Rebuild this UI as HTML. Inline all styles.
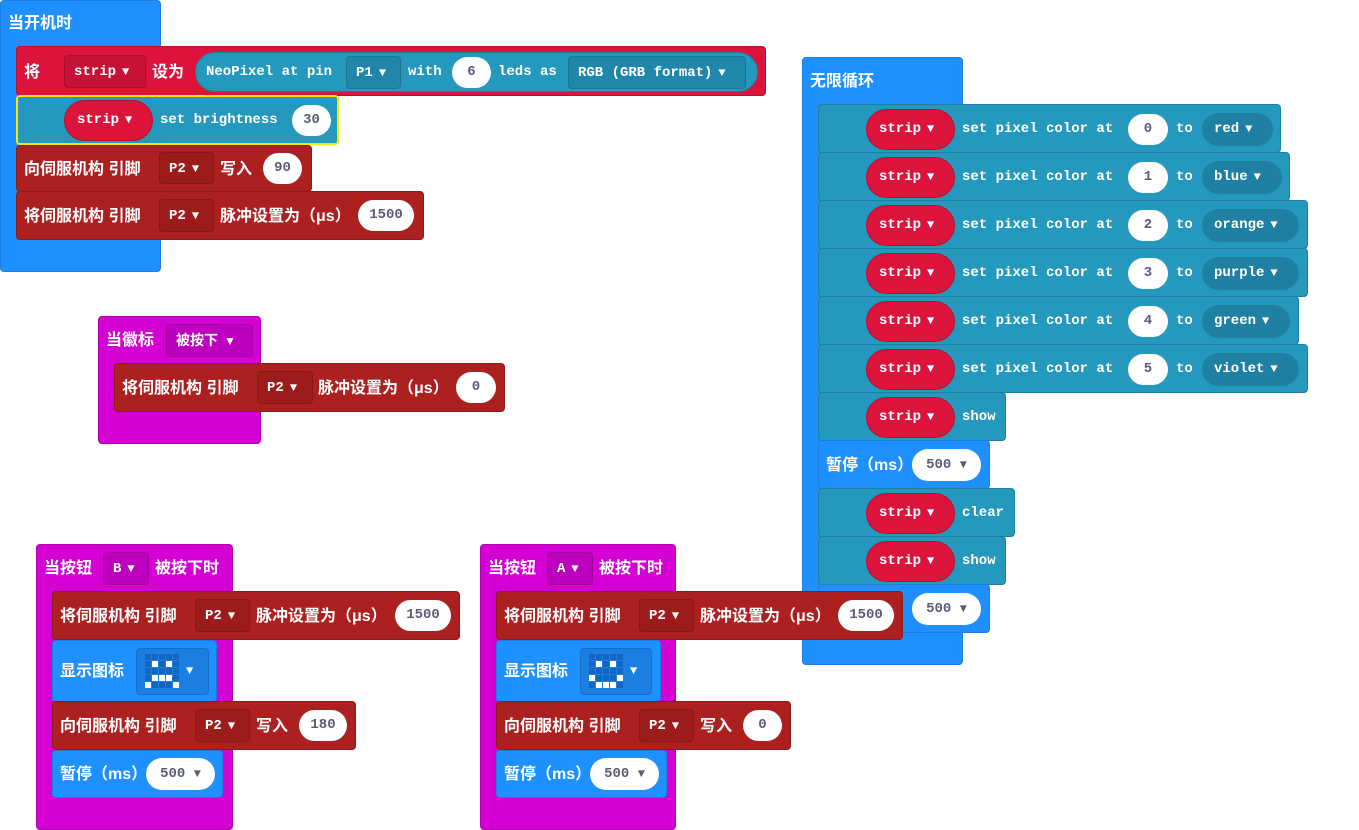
<!DOCTYPE html>
<html><head><meta charset="utf-8"><style>
body{margin:0;width:1359px;height:830px;background:#fff;position:relative;overflow:hidden;font-family:"Liberation Mono","Noto Sans CJK SC",monospace;}
div,span{position:absolute;box-sizing:border-box;}
.b{border-radius:4px;}
.t{color:#fff;font-weight:bold;font-size:14px;line-height:20px;white-space:nowrap;}
.c{font-family:"Liberation Sans","Noto Sans CJK SC",sans-serif;font-size:16px;margin-top:2px;}
.w{background:#fff;border-radius:20px;color:#575e75;font-weight:bold;font-size:14px;text-align:center;white-space:nowrap;}
.dd{border-radius:4px;color:#fff;font-weight:bold;font-size:14px;white-space:nowrap;padding-left:9px;}
.ov{border-radius:22px;color:#fff;font-weight:bold;font-size:14px;white-space:nowrap;padding-left:12px;background:#DC143C;border:1px solid #b5102f;}
.tri{font-size:12px;margin-left:6px;}
.blue{background:#1E90FF;border:1px solid #1a7ee0;}
.red{background:#DC143C;border:1px solid #b5102f;}
.teal{background:#2598BD;border:1px solid #1f7fa0;}
.sv{background:#AD2020;border:1px solid #8e1a1a;}
.mg{background:#D400D4;border:1px solid #b300b3;}
.ic{background:#1a7fe0;border:1px solid #1670c8;border-radius:4px;}
.px{width:6px;height:6px;background:#1466c0;}
.pw{width:6px;height:6px;background:#fff;}
</style></head><body>

<!-- 当开机时 -->
<div class="b blue" style="left:0;top:0;width:161px;height:272px"></div>
<span class="t c" style="left:8px;top:12px">当开机时</span>
<div class="b red" style="left:16px;top:46px;width:750px;height:50px"></div>
<span class="t c" style="left:24px;top:61px">将</span>
<div class="dd" style="left:64px;top:55px;width:82px;height:33px;line-height:33px;background:#c61236;border:1px solid #a80f2d">strip<span class="tri" style="position:static">▼</span></div>
<span class="t c" style="left:152px;top:61px">设为</span>
<div style="left:195px;top:52px;width:563px;height:40px;border-radius:20px;background:#2598BD;border:1px solid #1f7fa0"></div>
<span class="t" style="left:206px;top:62px">NeoPixel at pin</span>
<div class="dd" style="left:346px;top:56px;width:55px;height:33px;line-height:33px;background:#2087aa;border:1px solid #1b7595">P1<span class="tri" style="position:static">▼</span></div>
<span class="t" style="left:408px;top:62px">with</span>
<div class="w" style="left:452px;top:57px;width:39px;height:31px;line-height:31px">6</div>
<span class="t" style="left:498px;top:62px">leds as</span>
<div class="dd" style="left:568px;top:56px;width:178px;height:33px;line-height:33px;background:#2087aa;border:1px solid #1b7595">RGB (GRB format)<span class="tri" style="position:static">▼</span></div>

<div class="b teal" style="left:16px;top:95px;width:323px;height:50px;border:2px solid #ffe600"></div>
<div class="ov" style="left:64px;top:100px;width:89px;height:41px;line-height:39px">strip<span class="tri" style="position:static">▼</span></div>
<span class="t" style="left:160px;top:110px">set brightness</span>
<div class="w" style="left:292px;top:105px;width:39px;height:31px;line-height:31px">30</div>

<div class="b sv" style="left:16px;top:145px;width:296px;height:47px"></div>
<span class="t c" style="left:24px;top:158px">向伺服机构 引脚</span>
<div class="dd" style="left:159px;top:152px;width:55px;height:32px;line-height:32px;background:#9c1c1c;border:1px solid #861818">P2<span class="tri" style="position:static">▼</span></div>
<span class="t c" style="left:220px;top:158px">写入</span>
<div class="w" style="left:263px;top:153px;width:39px;height:31px;line-height:31px">90</div>

<div class="b sv" style="left:16px;top:191px;width:408px;height:49px"></div>
<span class="t c" style="left:24px;top:205px">将伺服机构 引脚</span>
<div class="dd" style="left:159px;top:199px;width:55px;height:33px;line-height:33px;background:#9c1c1c;border:1px solid #861818">P2<span class="tri" style="position:static">▼</span></div>
<span class="t c" style="left:220px;top:205px">脉冲设置为（μs）</span>
<div class="w" style="left:358px;top:200px;width:56px;height:31px;line-height:31px">1500</div>

<!-- 当徽标 -->
<div class="b mg" style="left:98px;top:316px;width:163px;height:128px"></div>
<span class="t c" style="left:106px;top:329px">当徽标</span>
<div class="dd c" style="left:166px;top:324px;width:87px;height:33px;line-height:31px;background:#bd00bd;border:1px solid #a300a3;margin-top:0">被按下<span class="tri" style="position:static">▼</span></div>
<div class="b sv" style="left:114px;top:363px;width:391px;height:49px"></div>
<span class="t c" style="left:122px;top:377px">将伺服机构 引脚</span>
<div class="dd" style="left:257px;top:371px;width:56px;height:33px;line-height:33px;background:#9c1c1c;border:1px solid #861818">P2<span class="tri" style="position:static">▼</span></div>
<span class="t c" style="left:318px;top:377px">脉冲设置为（μs）</span>
<div class="w" style="left:456px;top:372px;width:40px;height:31px;line-height:31px">0</div>

<!-- 当按钮 B -->
<div class="b mg" style="left:36px;top:544px;width:197px;height:286px"></div>
<span class="t c" style="left:44px;top:557px">当按钮</span>
<div class="dd" style="left:103px;top:552px;width:46px;height:33px;line-height:33px;background:#bd00bd;border:1px solid #a300a3">B<span class="tri" style="position:static">▼</span></div>
<span class="t c" style="left:155px;top:557px">被按下时</span>
<div class="b sv" style="left:52px;top:591px;width:408px;height:49px"></div>
<span class="t c" style="left:60px;top:605px">将伺服机构 引脚</span>
<div class="dd" style="left:195px;top:599px;width:55px;height:33px;line-height:33px;background:#9c1c1c;border:1px solid #861818">P2<span class="tri" style="position:static">▼</span></div>
<span class="t c" style="left:256px;top:605px">脉冲设置为（μs）</span>
<div class="w" style="left:395px;top:600px;width:56px;height:31px;line-height:31px">1500</div>
<div class="b blue" style="left:52px;top:640px;width:165px;height:62px"></div>
<span class="t c" style="left:60px;top:660px">显示图标</span>
<div class="ic" style="left:136px;top:648px;width:73px;height:47px"></div>
<span class="t" style="left:186px;top:661px;font-size:12px">▼</span>
<div style="left:145px;top:654px;width:36px;height:36px">
<div class="px" style="left:0;top:0"></div><div class="px" style="left:7px;top:0"></div><div class="px" style="left:14px;top:0"></div><div class="px" style="left:21px;top:0"></div><div class="px" style="left:28px;top:0"></div>
<div class="px" style="left:0;top:7px"></div><div class="pw" style="left:7px;top:7px"></div><div class="px" style="left:14px;top:7px"></div><div class="pw" style="left:21px;top:7px"></div><div class="px" style="left:28px;top:7px"></div>
<div class="px" style="left:0;top:14px"></div><div class="px" style="left:7px;top:14px"></div><div class="px" style="left:14px;top:14px"></div><div class="px" style="left:21px;top:14px"></div><div class="px" style="left:28px;top:14px"></div>
<div class="px" style="left:0;top:21px"></div><div class="pw" style="left:7px;top:21px"></div><div class="pw" style="left:14px;top:21px"></div><div class="pw" style="left:21px;top:21px"></div><div class="px" style="left:28px;top:21px"></div>
<div class="pw" style="left:0;top:28px"></div><div class="px" style="left:7px;top:28px"></div><div class="px" style="left:14px;top:28px"></div><div class="px" style="left:21px;top:28px"></div><div class="pw" style="left:28px;top:28px"></div>
</div>
<div class="b sv" style="left:52px;top:701px;width:304px;height:49px"></div>
<span class="t c" style="left:60px;top:715px">向伺服机构 引脚</span>
<div class="dd" style="left:195px;top:709px;width:55px;height:33px;line-height:33px;background:#9c1c1c;border:1px solid #861818">P2<span class="tri" style="position:static">▼</span></div>
<span class="t c" style="left:256px;top:715px">写入</span>
<div class="w" style="left:299px;top:710px;width:48px;height:31px;line-height:31px">180</div>
<div class="b blue" style="left:52px;top:750px;width:171px;height:48px"></div>
<span class="t c" style="left:60px;top:763px">暂停（ms）</span>
<div class="w" style="left:146px;top:758px;width:69px;height:32px;line-height:32px">500 <span style="position:static;font-size:12px">▼</span></div>

<!-- 当按钮 A -->
<div class="b mg" style="left:480px;top:544px;width:196px;height:286px"></div>
<span class="t c" style="left:488px;top:557px">当按钮</span>
<div class="dd" style="left:547px;top:552px;width:46px;height:33px;line-height:33px;background:#bd00bd;border:1px solid #a300a3">A<span class="tri" style="position:static">▼</span></div>
<span class="t c" style="left:599px;top:557px">被按下时</span>
<div class="b blue" style="left:496px;top:640px;width:165px;height:62px"></div>
<span class="t c" style="left:504px;top:660px">显示图标</span>
<div class="ic" style="left:580px;top:648px;width:72px;height:47px"></div>
<span class="t" style="left:630px;top:661px;font-size:12px">▼</span>
<div style="left:589px;top:654px;width:36px;height:36px">
<div class="px" style="left:0;top:0"></div><div class="px" style="left:7px;top:0"></div><div class="px" style="left:14px;top:0"></div><div class="px" style="left:21px;top:0"></div><div class="px" style="left:28px;top:0"></div>
<div class="px" style="left:0;top:7px"></div><div class="pw" style="left:7px;top:7px"></div><div class="px" style="left:14px;top:7px"></div><div class="pw" style="left:21px;top:7px"></div><div class="px" style="left:28px;top:7px"></div>
<div class="px" style="left:0;top:14px"></div><div class="px" style="left:7px;top:14px"></div><div class="px" style="left:14px;top:14px"></div><div class="px" style="left:21px;top:14px"></div><div class="px" style="left:28px;top:14px"></div>
<div class="pw" style="left:0;top:21px"></div><div class="px" style="left:7px;top:21px"></div><div class="px" style="left:14px;top:21px"></div><div class="px" style="left:21px;top:21px"></div><div class="pw" style="left:28px;top:21px"></div>
<div class="px" style="left:0;top:28px"></div><div class="pw" style="left:7px;top:28px"></div><div class="pw" style="left:14px;top:28px"></div><div class="pw" style="left:21px;top:28px"></div><div class="px" style="left:28px;top:28px"></div>
</div>
<div class="b sv" style="left:496px;top:701px;width:295px;height:49px"></div>
<span class="t c" style="left:504px;top:715px">向伺服机构 引脚</span>
<div class="dd" style="left:639px;top:709px;width:55px;height:33px;line-height:33px;background:#9c1c1c;border:1px solid #861818">P2<span class="tri" style="position:static">▼</span></div>
<span class="t c" style="left:700px;top:715px">写入</span>
<div class="w" style="left:743px;top:710px;width:39px;height:31px;line-height:31px">0</div>
<div class="b blue" style="left:496px;top:750px;width:171px;height:48px"></div>
<span class="t c" style="left:504px;top:763px">暂停（ms）</span>
<div class="w" style="left:590px;top:758px;width:69px;height:32px;line-height:32px">500 <span style="position:static;font-size:12px">▼</span></div>

<!-- 无限循环 -->
<div class="b blue" style="left:802px;top:57px;width:161px;height:608px"></div>
<span class="t c" style="left:810px;top:70px">无限循环</span>

<div class="b teal" style="left:818px;top:104px;width:463px;height:49px"></div>
<div class="ov" style="left:866px;top:109px;width:89px;height:41px;line-height:39px">strip<span class="tri" style="position:static">▼</span></div>
<span class="t" style="left:962px;top:119px">set pixel color at</span>
<div class="w" style="left:1128px;top:114px;width:40px;height:31px;line-height:31px">0</div>
<span class="t" style="left:1176px;top:119px">to</span>
<div class="dd" style="left:1202px;top:113px;width:71px;height:33px;line-height:33px;background:#1f80a3;border-radius:17px;padding-left:12px">red<span class="tri" style="position:static">▼</span></div>

<div class="b teal" style="left:818px;top:152px;width:472px;height:49px"></div>
<div class="ov" style="left:866px;top:157px;width:89px;height:41px;line-height:39px">strip<span class="tri" style="position:static">▼</span></div>
<span class="t" style="left:962px;top:167px">set pixel color at</span>
<div class="w" style="left:1128px;top:162px;width:40px;height:31px;line-height:31px">1</div>
<span class="t" style="left:1176px;top:167px">to</span>
<div class="dd" style="left:1202px;top:161px;width:80px;height:33px;line-height:33px;background:#1f80a3;border-radius:17px;padding-left:12px">blue<span class="tri" style="position:static">▼</span></div>

<div class="b teal" style="left:818px;top:200px;width:490px;height:49px"></div>
<div class="ov" style="left:866px;top:205px;width:89px;height:41px;line-height:39px">strip<span class="tri" style="position:static">▼</span></div>
<span class="t" style="left:962px;top:215px">set pixel color at</span>
<div class="w" style="left:1128px;top:210px;width:40px;height:31px;line-height:31px">2</div>
<span class="t" style="left:1176px;top:215px">to</span>
<div class="dd" style="left:1202px;top:209px;width:97px;height:33px;line-height:33px;background:#1f80a3;border-radius:17px;padding-left:12px">orange<span class="tri" style="position:static">▼</span></div>

<div class="b teal" style="left:818px;top:248px;width:490px;height:49px"></div>
<div class="ov" style="left:866px;top:253px;width:89px;height:41px;line-height:39px">strip<span class="tri" style="position:static">▼</span></div>
<span class="t" style="left:962px;top:263px">set pixel color at</span>
<div class="w" style="left:1128px;top:258px;width:40px;height:31px;line-height:31px">3</div>
<span class="t" style="left:1176px;top:263px">to</span>
<div class="dd" style="left:1202px;top:257px;width:97px;height:33px;line-height:33px;background:#1f80a3;border-radius:17px;padding-left:12px">purple<span class="tri" style="position:static">▼</span></div>

<div class="b teal" style="left:818px;top:296px;width:481px;height:49px"></div>
<div class="ov" style="left:866px;top:301px;width:89px;height:41px;line-height:39px">strip<span class="tri" style="position:static">▼</span></div>
<span class="t" style="left:962px;top:311px">set pixel color at</span>
<div class="w" style="left:1128px;top:306px;width:40px;height:31px;line-height:31px">4</div>
<span class="t" style="left:1176px;top:311px">to</span>
<div class="dd" style="left:1202px;top:305px;width:88px;height:33px;line-height:33px;background:#1f80a3;border-radius:17px;padding-left:12px">green<span class="tri" style="position:static">▼</span></div>

<div class="b teal" style="left:818px;top:344px;width:490px;height:49px"></div>
<div class="ov" style="left:866px;top:349px;width:89px;height:41px;line-height:39px">strip<span class="tri" style="position:static">▼</span></div>
<span class="t" style="left:962px;top:359px">set pixel color at</span>
<div class="w" style="left:1128px;top:354px;width:40px;height:31px;line-height:31px">5</div>
<span class="t" style="left:1176px;top:359px">to</span>
<div class="dd" style="left:1202px;top:353px;width:97px;height:33px;line-height:33px;background:#1f80a3;border-radius:17px;padding-left:12px">violet<span class="tri" style="position:static">▼</span></div>

<div class="b teal" style="left:818px;top:392px;width:188px;height:49px"></div>
<div class="ov" style="left:866px;top:397px;width:89px;height:41px;line-height:39px">strip<span class="tri" style="position:static">▼</span></div>
<span class="t" style="left:962px;top:407px">show</span>

<div class="b blue" style="left:818px;top:440px;width:172px;height:49px"></div>
<span class="t c" style="left:826px;top:454px">暂停（ms）</span>
<div class="w" style="left:912px;top:449px;width:69px;height:32px;line-height:32px">500 <span style="position:static;font-size:12px">▼</span></div>

<div class="b teal" style="left:818px;top:488px;width:197px;height:49px"></div>
<div class="ov" style="left:866px;top:493px;width:89px;height:41px;line-height:39px">strip<span class="tri" style="position:static">▼</span></div>
<span class="t" style="left:962px;top:503px">clear</span>

<div class="b teal" style="left:818px;top:536px;width:188px;height:49px"></div>
<div class="ov" style="left:866px;top:541px;width:89px;height:41px;line-height:39px">strip<span class="tri" style="position:static">▼</span></div>
<span class="t" style="left:962px;top:551px">show</span>

<div class="b blue" style="left:818px;top:584px;width:172px;height:49px"></div>
<div class="w" style="left:912px;top:593px;width:69px;height:32px;line-height:32px">500 <span style="position:static;font-size:12px">▼</span></div>

<!-- A servo pulse on top -->
<div class="b sv" style="left:496px;top:591px;width:407px;height:49px"></div>
<span class="t c" style="left:504px;top:605px">将伺服机构 引脚</span>
<div class="dd" style="left:639px;top:599px;width:55px;height:33px;line-height:33px;background:#9c1c1c;border:1px solid #861818">P2<span class="tri" style="position:static">▼</span></div>
<span class="t c" style="left:700px;top:605px">脉冲设置为（μs）</span>
<div class="w" style="left:838px;top:600px;width:56px;height:31px;line-height:31px">1500</div>

</body></html>
